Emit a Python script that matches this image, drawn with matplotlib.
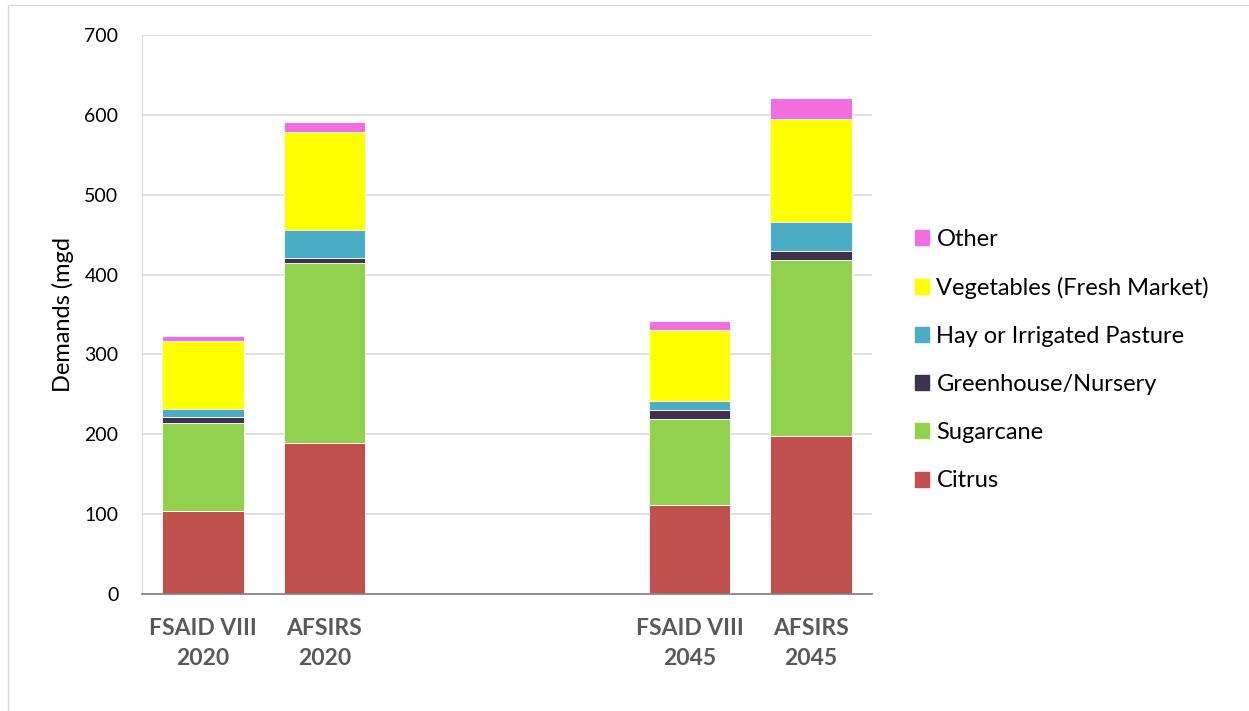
import matplotlib.pyplot as plt
from matplotlib.patches import Rectangle, Patch
import numpy as np

categories = ["FSAID VIII\n2020", "AFSIRS\n2020", "", "", "FSAID VIII\n2045", "AFSIRS\n2045"]
series = ["Citrus", "Sugarcane", "Greenhouse/Nursery", "Hay or Irrigated Pasture",
          "Vegetables (Fresh Market)", "Other"]
citrus = [104, 189, 0, 0, 111, 198]
sugarcane = [110, 225, 0, 0, 108, 220]
greenhouse = [8, 7, 0, 0, 12, 12]
hay = [10, 35, 0, 0, 11, 36]
vegetables = [85, 122, 0, 0, 88, 129]
other = [6, 13, 0, 0, 12, 26]
colors = ["#C0504D", "#92D050", "#403151", "#4BACC6", "#FFFF00", "#F06EE0"]

plt.rcParams["font.family"] = ["Lato", "DejaVu Sans"]

fig = plt.figure(figsize=(12.49, 7.11), dpi=100)
ax = fig.add_axes([142 / 1249, 1 - 594 / 711, 730 / 1249, 559 / 711])

x = np.arange(len(categories))
bottom = np.zeros(len(categories))
for vals, name, c in zip([citrus, sugarcane, greenhouse, hay, vegetables, other], series, colors):
    ax.bar(x, vals, 0.67, bottom=bottom, color=c, label=name, edgecolor="white", linewidth=0.6)
    bottom += np.array(vals)

ax.set_xlim(-0.5, len(categories) - 0.5)
ax.set_ylim(0, 700)
ax.set_yticks(range(0, 701, 100))
ax.yaxis.grid(True, color="#D9D9D9", linewidth=1.2)
ax.set_axisbelow(True)
ax.set_xticks(x)
ax.set_xticklabels(categories, fontsize=16.5, fontweight="bold", color="#595959", linespacing=1.55)
ax.tick_params(axis="both", length=0)
ax.tick_params(axis="y", labelsize=14, pad=17)
ax.tick_params(axis="x", pad=17)
for s in ["top", "right"]:
    ax.spines[s].set_visible(False)
ax.spines["left"].set_color("#D9D9D9")
ax.spines["bottom"].set_color("#868686")
ax.spines["bottom"].set_linewidth(1.3)
ax.set_ylabel("Demands (mgd", fontsize=17)
ax.yaxis.set_label_coords(-0.093, 0.5)

handles = [Patch(color=c, label=n) for n, c in zip(series, colors)][::-1]
fig.legend(handles=handles, loc="center left", bbox_to_anchor=(894 / 1249, 1 - 360 / 711),
           frameon=False, fontsize=17, handlelength=0.6, handleheight=0.6,
           handletextpad=0.3, labelspacing=1.15)

fig.patches.append(Rectangle((8 / 1249, -0.01), 1.1, 1 - 5 / 711 + 0.01, transform=fig.transFigure,
                             fill=False, edgecolor="#D9D9D9", linewidth=1))

fig.savefig("out.png", dpi=100)
